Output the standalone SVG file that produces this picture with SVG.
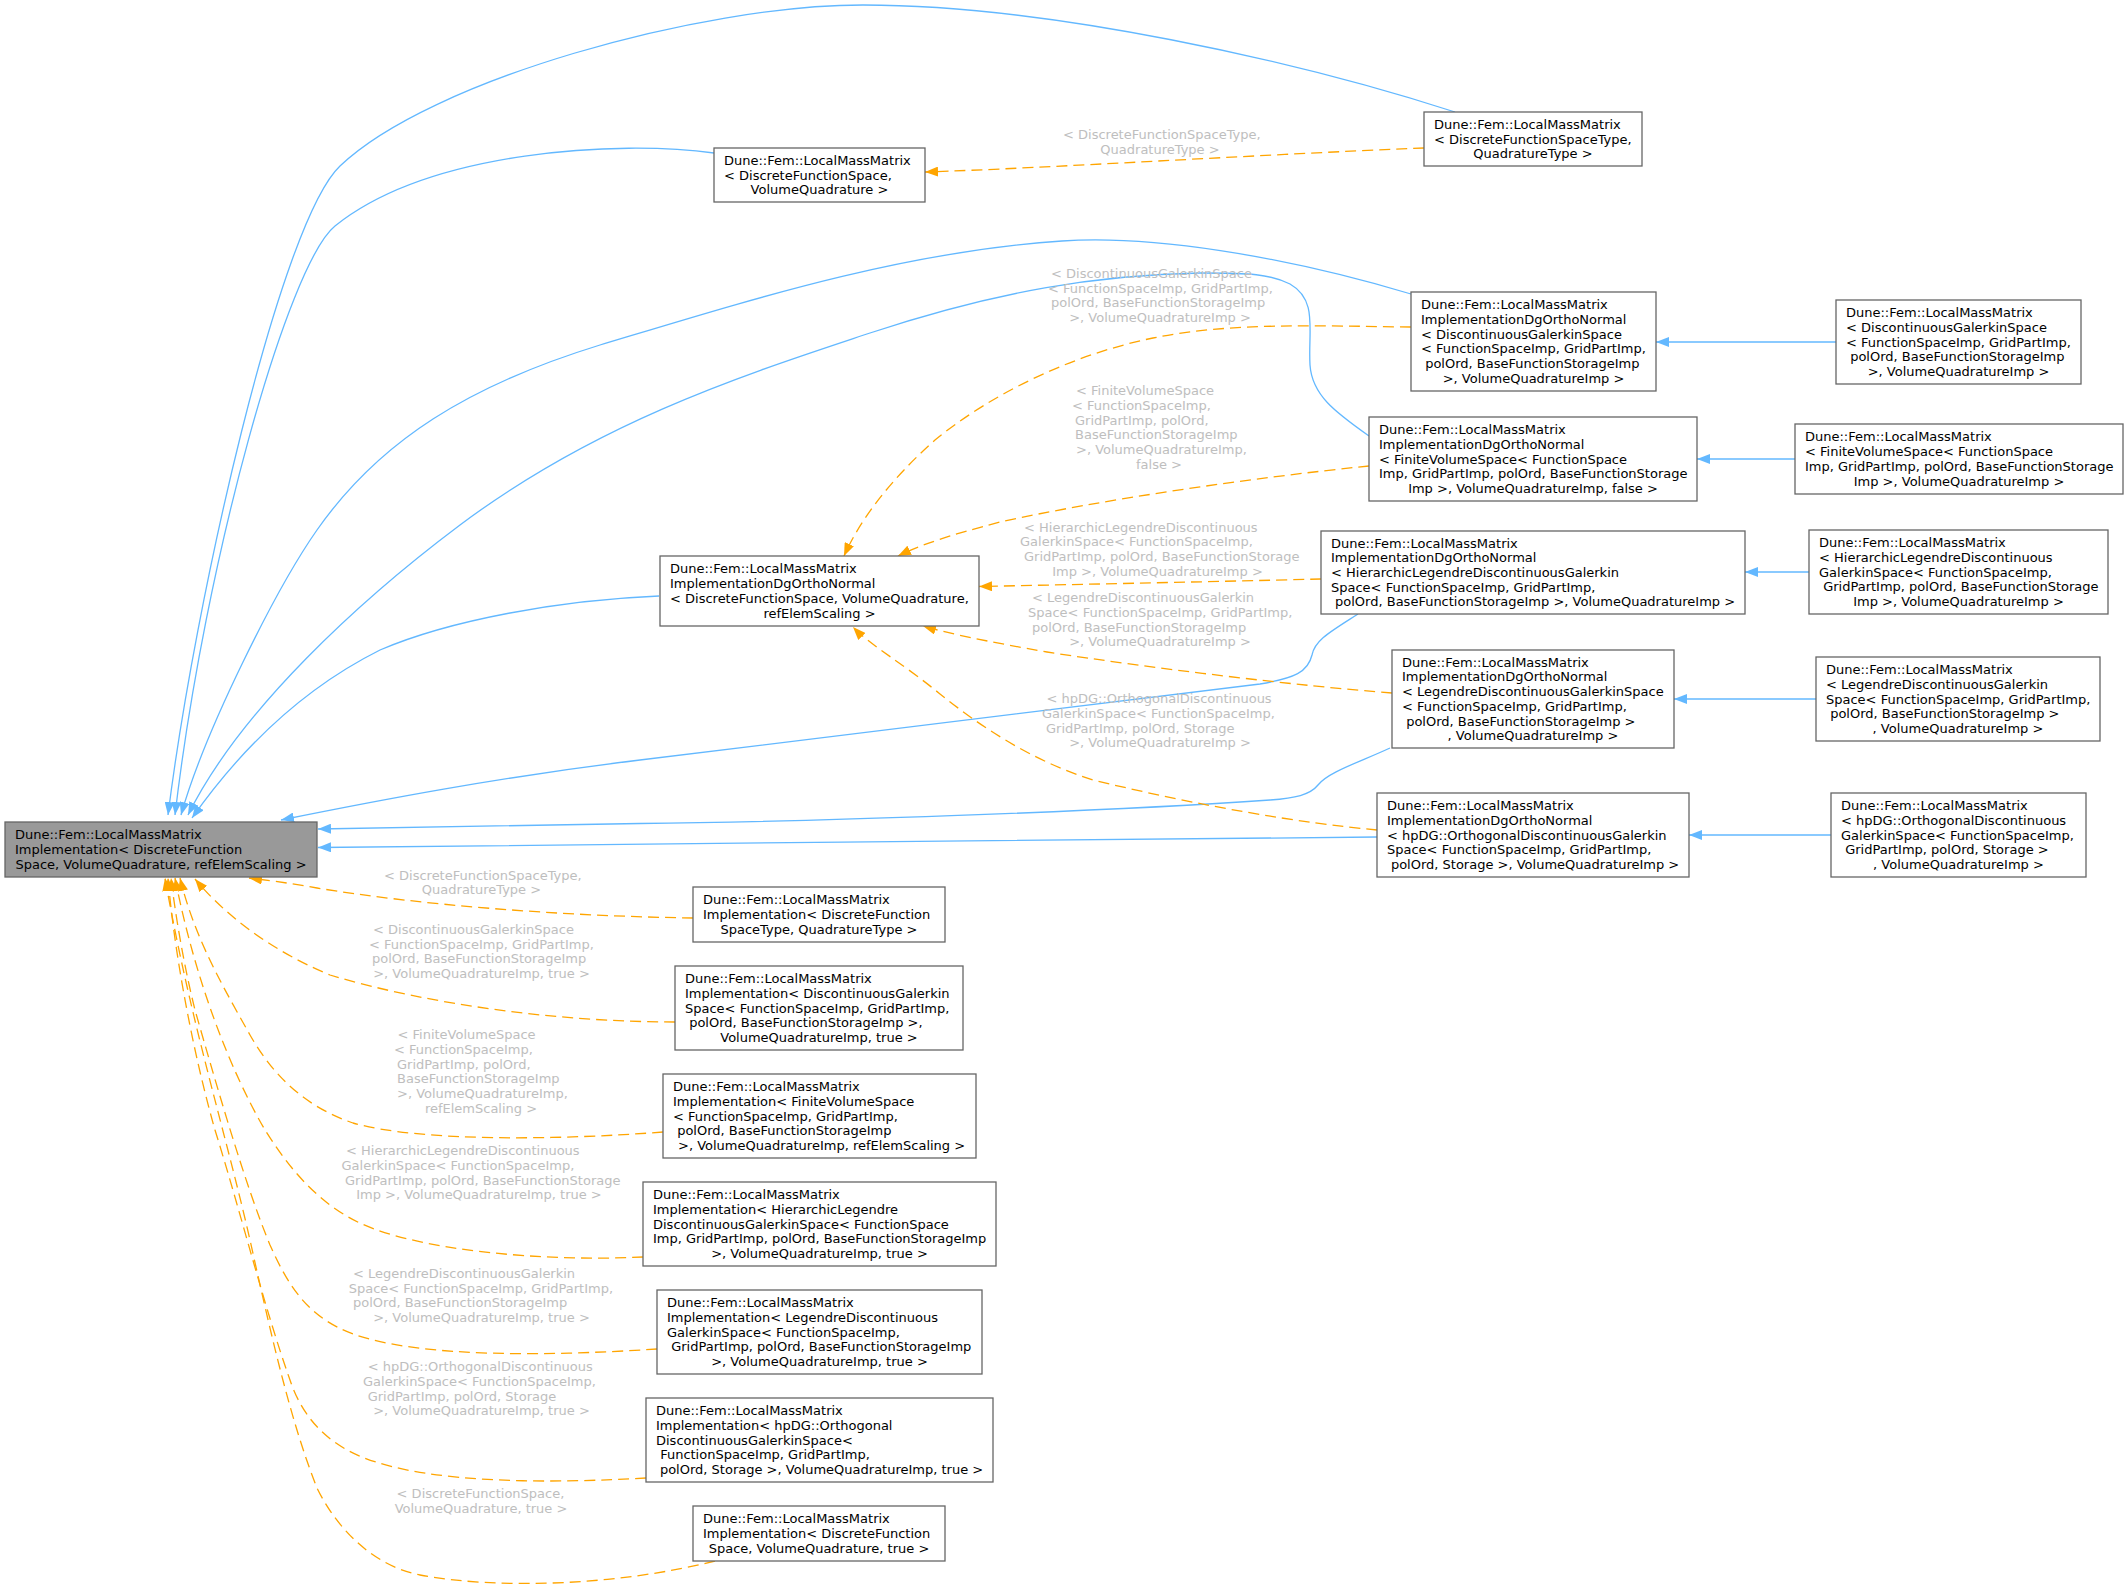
<svg xmlns="http://www.w3.org/2000/svg" width="2128" height="1585" viewBox="0 0 2128 1585">
<style>
.n{fill:#fff;stroke:#666;stroke-width:1.3}
.r{fill:#999;stroke:#666;stroke-width:1.3}
text{font-family:"DejaVu Sans","Liberation Sans",sans-serif;font-size:13px;fill:#000;white-space:pre}
.m{text-anchor:middle}
.lb text{fill:#bebebe}
.b{fill:none;stroke:#63b8ff;stroke-width:1.3;marker-end:url(#ab)}
.o{fill:none;stroke:#ffa500;stroke-width:1.3;stroke-dasharray:11,6;marker-end:url(#ao)}
</style>
<defs>
<marker id="ab" markerUnits="userSpaceOnUse" markerWidth="14" markerHeight="10" refX="13" refY="5" orient="auto"><path d="M0,0L13,5L0,10z" fill="#63b8ff"/></marker>
<marker id="ao" markerUnits="userSpaceOnUse" markerWidth="14" markerHeight="10" refX="13" refY="5" orient="auto"><path d="M0,0L13,5L0,10z" fill="#ffa500"/></marker>
</defs>
<rect width="2128" height="1585" fill="#fff"/>
<g id="connectors">
<path class="b" d="M1455,112 C1300,62 1050,5 863,5 C700,5 430,80 340,166 C280,223 195,600 168,815"/>
<path class="b" d="M714,153 C620,140 430,150 335,226 C288,264 205,560 175,815"/>
<path class="b" d="M1411,294 C1280,255 1150,235 1062,241 C900,252 750,300 600,345 C470,385 380,440 317,530 C277,587 205,730 181,815"/>
<path class="b" d="M1369,436 C1335,412 1312,395 1310,365 C1308,330 1318,300 1290,284 C1270,274 1250,273 1200,273 C1100,275 1000,290 870,333 C750,373 600,420 460,525 C360,600 240,710 188,815"/>
<path class="b" d="M659,596 C560,600 450,620 380,650 C300,690 240,750 192,818"/>
<path class="b" d="M1358,614 C1330,632 1315,640 1312,655 C1308,672 1295,678 1260,684 C1150,698 900,728 640,760 C500,777 380,800 281,820"/>
<path class="b" d="M1390,748 C1360,762 1328,772 1318,785 C1310,795 1295,798 1270,800 C1100,812 800,822 640,823.5 C500,825 400,827 318,829"/>
<path class="b" d="M1377,837 C1100,840 600,844 318,847.5"/>
<path class="b" d="M1836,342 L1656,342"/>
<path class="b" d="M1795,459 L1697,459"/>
<path class="b" d="M1809,572 L1745,572"/>
<path class="b" d="M1816,699 L1674,699"/>
<path class="b" d="M1831,835 L1689,835"/>
<path class="o" d="M1424,148 C1250,155 1050,168 925,172"/>
<path class="o" d="M1411,327 C1320,326 1230,322 1153,338 C1070,355 990,395 935,440 C890,480 860,520 844,556"/>
<path class="o" d="M1369,466 C1250,478 1100,500 1000,522 C950,535 920,545 898,556"/>
<path class="o" d="M1321,579 C1200,582 1050,585 979,586.5"/>
<path class="o" d="M1392,693 C1300,686 1150,668 1047,652 C990,642 950,634 923,626"/>
<path class="o" d="M1377,830 C1300,823 1200,806 1093,780 C1030,760 980,726 940,694 C905,665 870,645 853,627"/>
<path class="o" d="M693,918 C560,916 420,905 317,888 C290,883 265,880 249,878"/>
<path class="o" d="M675,1022 C560,1022 430,1005 330,975 C270,950 225,915 195,879"/>
<path class="o" d="M663,1132 C560,1140 420,1142 353,1123 C300,1105 270,1070 250,1035 C225,990 195,940 180,878"/>
<path class="o" d="M643,1257 C540,1262 420,1250 362,1224 C320,1205 290,1170 265,1130 C230,1070 195,980 175,878"/>
<path class="o" d="M657,1349 C550,1356 420,1358 353,1334 C310,1318 290,1290 270,1245 C245,1185 215,1080 195,1010 C185,970 176,920 171,878"/>
<path class="o" d="M646,1478 C560,1483 430,1485 362,1457 C320,1440 300,1410 290,1380 C265,1310 240,1210 215,1130 C195,1060 175,960 168,878"/>
<path class="o" d="M715,1561 C620,1585 500,1590 420,1575 C370,1565 335,1525 317,1488 C290,1420 270,1330 250,1240 C225,1130 190,1020 165,878"/>
</g>
<g id="edge-labels" class="lb">
<text x="1063" y="139">&lt; DiscreteFunctionSpaceType,</text>
<text x="1160" y="153.5" class="m">QuadratureType &gt;</text>
<text x="1051" y="277.5">&lt; DiscontinuousGalerkinSpace</text>
<text x="1048" y="292.5">&lt; FunctionSpaceImp, GridPartImp,</text>
<text x="1051" y="307">polOrd, BaseFunctionStorageImp</text>
<text x="1160" y="321.5" class="m">&gt;, VolumeQuadratureImp &gt;</text>
<text x="1076" y="395">&lt; FiniteVolumeSpace</text>
<text x="1072" y="410">&lt; FunctionSpaceImp,</text>
<text x="1075" y="424.5">GridPartImp, polOrd,</text>
<text x="1075" y="439">BaseFunctionStorageImp</text>
<text x="1076" y="454">&gt;, VolumeQuadratureImp,</text>
<text x="1159" y="468.5" class="m">false &gt;</text>
<text x="1024" y="531.5">&lt; HierarchicLegendreDiscontinuous</text>
<text x="1020" y="546">GalerkinSpace&lt; FunctionSpaceImp,</text>
<text x="1024" y="560.5">GridPartImp, polOrd, BaseFunctionStorage</text>
<text x="1157.5" y="575.5" class="m">Imp &gt;, VolumeQuadratureImp &gt;</text>
<text x="1032" y="602">&lt; LegendreDiscontinuousGalerkin</text>
<text x="1028" y="616.5">Space&lt; FunctionSpaceImp, GridPartImp,</text>
<text x="1032" y="631.5">polOrd, BaseFunctionStorageImp</text>
<text x="1160" y="645.5" class="m">&gt;, VolumeQuadratureImp &gt;</text>
<text x="1046.5" y="703">&lt; hpDG::OrthogonalDiscontinuous</text>
<text x="1042" y="718">GalerkinSpace&lt; FunctionSpaceImp,</text>
<text x="1046" y="732.5">GridPartImp, polOrd, Storage</text>
<text x="1160" y="747" class="m">&gt;, VolumeQuadratureImp &gt;</text>
<text x="384" y="879.5">&lt; DiscreteFunctionSpaceType,</text>
<text x="481.5" y="894" class="m">QuadratureType &gt;</text>
<text x="373" y="934">&lt; DiscontinuousGalerkinSpace</text>
<text x="369" y="948.5">&lt; FunctionSpaceImp, GridPartImp,</text>
<text x="372" y="963">polOrd, BaseFunctionStorageImp</text>
<text x="481.5" y="977.5" class="m">&gt;, VolumeQuadratureImp, true &gt;</text>
<text x="397.5" y="1039">&lt; FiniteVolumeSpace</text>
<text x="394" y="1054">&lt; FunctionSpaceImp,</text>
<text x="397" y="1068.5">GridPartImp, polOrd,</text>
<text x="397" y="1083">BaseFunctionStorageImp</text>
<text x="397" y="1098">&gt;, VolumeQuadratureImp,</text>
<text x="481" y="1112.5" class="m">refElemScaling &gt;</text>
<text x="346" y="1155">&lt; HierarchicLegendreDiscontinuous</text>
<text x="341.5" y="1170">GalerkinSpace&lt; FunctionSpaceImp,</text>
<text x="345" y="1184.5">GridPartImp, polOrd, BaseFunctionStorage</text>
<text x="479" y="1199" class="m">Imp &gt;, VolumeQuadratureImp, true &gt;</text>
<text x="353" y="1278">&lt; LegendreDiscontinuousGalerkin</text>
<text x="348.7" y="1292.5">Space&lt; FunctionSpaceImp, GridPartImp,</text>
<text x="353" y="1307">polOrd, BaseFunctionStorageImp</text>
<text x="481.5" y="1322" class="m">&gt;, VolumeQuadratureImp, true &gt;</text>
<text x="367.7" y="1371">&lt; hpDG::OrthogonalDiscontinuous</text>
<text x="363" y="1385.5">GalerkinSpace&lt; FunctionSpaceImp,</text>
<text x="367.7" y="1400.5">GridPartImp, polOrd, Storage</text>
<text x="481.5" y="1415" class="m">&gt;, VolumeQuadratureImp, true &gt;</text>
<text x="396.6" y="1498">&lt; DiscreteFunctionSpace,</text>
<text x="481" y="1512.5" class="m">VolumeQuadrature, true &gt;</text>
</g>
<g id="node1"><rect class="r" x="5" y="822" width="312" height="55"/>
<text x="15" y="839.3">Dune::Fem::LocalMassMatrix</text><text x="15" y="854">Implementation&lt; DiscreteFunction</text><text x="161" y="868.7" class="m">Space, VolumeQuadrature, refElemScaling &gt;</text></g>
<g id="node2"><rect class="n" x="1424" y="112" width="218" height="54"/>
<text x="1434" y="128.8">Dune::Fem::LocalMassMatrix</text><text x="1434" y="143.5">&lt; DiscreteFunctionSpaceType,</text><text x="1533" y="158.2" class="m">QuadratureType &gt;</text></g>
<g id="node3"><rect class="n" x="714" y="148" width="211" height="54"/>
<text x="724" y="164.8">Dune::Fem::LocalMassMatrix</text><text x="724" y="179.5">&lt; DiscreteFunctionSpace,</text><text x="819.5" y="194.2" class="m">VolumeQuadrature &gt;</text></g>
<g id="node4"><rect class="n" x="660" y="556" width="319" height="70"/>
<text x="670" y="573.45">Dune::Fem::LocalMassMatrix</text><text x="670" y="588.15">ImplementationDgOrthoNormal</text><text x="670" y="602.85">&lt; DiscreteFunctionSpace, VolumeQuadrature,</text><text x="819.5" y="617.55" class="m">refElemScaling &gt;</text></g>
<g id="node5"><rect class="n" x="1411" y="292" width="245" height="99"/>
<text x="1421" y="309.25">Dune::Fem::LocalMassMatrix</text><text x="1421" y="323.95">ImplementationDgOrthoNormal</text><text x="1421" y="338.65">&lt; DiscontinuousGalerkinSpace</text><text x="1421" y="353.35">&lt; FunctionSpaceImp, GridPartImp,</text><text x="1421" y="368.05"> polOrd, BaseFunctionStorageImp</text><text x="1533.5" y="382.75" class="m">&gt;, VolumeQuadratureImp &gt;</text></g>
<g id="node6"><rect class="n" x="1369" y="417" width="328" height="84"/>
<text x="1379" y="434.1">Dune::Fem::LocalMassMatrix</text><text x="1379" y="448.8">ImplementationDgOrthoNormal</text><text x="1379" y="463.5">&lt; FiniteVolumeSpace&lt; FunctionSpace</text><text x="1379" y="478.2">Imp, GridPartImp, polOrd, BaseFunctionStorage</text><text x="1533" y="492.9" class="m">Imp &gt;, VolumeQuadratureImp, false &gt;</text></g>
<g id="node7"><rect class="n" x="1321" y="531" width="424" height="83"/>
<text x="1331" y="547.6">Dune::Fem::LocalMassMatrix</text><text x="1331" y="562.3">ImplementationDgOrthoNormal</text><text x="1331" y="577">&lt; HierarchicLegendreDiscontinuousGalerkin</text><text x="1331" y="591.7">Space&lt; FunctionSpaceImp, GridPartImp,</text><text x="1533" y="606.4" class="m"> polOrd, BaseFunctionStorageImp &gt;, VolumeQuadratureImp &gt;</text></g>
<g id="node8"><rect class="n" x="1392" y="650" width="282" height="98"/>
<text x="1402" y="666.75">Dune::Fem::LocalMassMatrix</text><text x="1402" y="681.45">ImplementationDgOrthoNormal</text><text x="1402" y="696.15">&lt; LegendreDiscontinuousGalerkinSpace</text><text x="1402" y="710.85">&lt; FunctionSpaceImp, GridPartImp,</text><text x="1402" y="725.55"> polOrd, BaseFunctionStorageImp &gt;</text><text x="1533" y="740.25" class="m">, VolumeQuadratureImp &gt;</text></g>
<g id="node9"><rect class="n" x="1377" y="793" width="312" height="84"/>
<text x="1387" y="810.1">Dune::Fem::LocalMassMatrix</text><text x="1387" y="824.8">ImplementationDgOrthoNormal</text><text x="1387" y="839.5">&lt; hpDG::OrthogonalDiscontinuousGalerkin</text><text x="1387" y="854.2">Space&lt; FunctionSpaceImp, GridPartImp,</text><text x="1533" y="868.9" class="m"> polOrd, Storage &gt;, VolumeQuadratureImp &gt;</text></g>
<g id="node10"><rect class="n" x="1836" y="300" width="245" height="84"/>
<text x="1846" y="317.1">Dune::Fem::LocalMassMatrix</text><text x="1846" y="331.8">&lt; DiscontinuousGalerkinSpace</text><text x="1846" y="346.5">&lt; FunctionSpaceImp, GridPartImp,</text><text x="1846" y="361.2"> polOrd, BaseFunctionStorageImp</text><text x="1958.5" y="375.9" class="m">&gt;, VolumeQuadratureImp &gt;</text></g>
<g id="node11"><rect class="n" x="1795" y="424" width="328" height="70"/>
<text x="1805" y="441.45">Dune::Fem::LocalMassMatrix</text><text x="1805" y="456.15">&lt; FiniteVolumeSpace&lt; FunctionSpace</text><text x="1805" y="470.85">Imp, GridPartImp, polOrd, BaseFunctionStorage</text><text x="1959" y="485.55" class="m">Imp &gt;, VolumeQuadratureImp &gt;</text></g>
<g id="node12"><rect class="n" x="1809" y="530" width="299" height="84"/>
<text x="1819" y="547.1">Dune::Fem::LocalMassMatrix</text><text x="1819" y="561.8">&lt; HierarchicLegendreDiscontinuous</text><text x="1819" y="576.5">GalerkinSpace&lt; FunctionSpaceImp,</text><text x="1819" y="591.2"> GridPartImp, polOrd, BaseFunctionStorage</text><text x="1958.5" y="605.9" class="m">Imp &gt;, VolumeQuadratureImp &gt;</text></g>
<g id="node13"><rect class="n" x="1816" y="657" width="284" height="84"/>
<text x="1826" y="674.1">Dune::Fem::LocalMassMatrix</text><text x="1826" y="688.8">&lt; LegendreDiscontinuousGalerkin</text><text x="1826" y="703.5">Space&lt; FunctionSpaceImp, GridPartImp,</text><text x="1826" y="718.2"> polOrd, BaseFunctionStorageImp &gt;</text><text x="1958" y="732.9" class="m">, VolumeQuadratureImp &gt;</text></g>
<g id="node14"><rect class="n" x="1831" y="793" width="255" height="84"/>
<text x="1841" y="810.1">Dune::Fem::LocalMassMatrix</text><text x="1841" y="824.8">&lt; hpDG::OrthogonalDiscontinuous</text><text x="1841" y="839.5">GalerkinSpace&lt; FunctionSpaceImp,</text><text x="1841" y="854.2"> GridPartImp, polOrd, Storage &gt;</text><text x="1958.5" y="868.9" class="m">, VolumeQuadratureImp &gt;</text></g>
<g id="node15"><rect class="n" x="693" y="887" width="252" height="55"/>
<text x="703" y="904.3">Dune::Fem::LocalMassMatrix</text><text x="703" y="919">Implementation&lt; DiscreteFunction</text><text x="819" y="933.7" class="m">SpaceType, QuadratureType &gt;</text></g>
<g id="node16"><rect class="n" x="675" y="966" width="288" height="84"/>
<text x="685" y="983.1">Dune::Fem::LocalMassMatrix</text><text x="685" y="997.8">Implementation&lt; DiscontinuousGalerkin</text><text x="685" y="1012.5">Space&lt; FunctionSpaceImp, GridPartImp,</text><text x="685" y="1027.2"> polOrd, BaseFunctionStorageImp &gt;,</text><text x="819" y="1041.9" class="m">VolumeQuadratureImp, true &gt;</text></g>
<g id="node17"><rect class="n" x="663" y="1074" width="313" height="84"/>
<text x="673" y="1091.1">Dune::Fem::LocalMassMatrix</text><text x="673" y="1105.8">Implementation&lt; FiniteVolumeSpace</text><text x="673" y="1120.5">&lt; FunctionSpaceImp, GridPartImp,</text><text x="673" y="1135.2"> polOrd, BaseFunctionStorageImp</text><text x="819.5" y="1149.9" class="m"> &gt;, VolumeQuadratureImp, refElemScaling &gt;</text></g>
<g id="node18"><rect class="n" x="643" y="1182" width="353" height="84"/>
<text x="653" y="1199.1">Dune::Fem::LocalMassMatrix</text><text x="653" y="1213.8">Implementation&lt; HierarchicLegendre</text><text x="653" y="1228.5">DiscontinuousGalerkinSpace&lt; FunctionSpace</text><text x="653" y="1243.2">Imp, GridPartImp, polOrd, BaseFunctionStorageImp</text><text x="819.5" y="1257.9" class="m">&gt;, VolumeQuadratureImp, true &gt;</text></g>
<g id="node19"><rect class="n" x="657" y="1290" width="325" height="84"/>
<text x="667" y="1307.1">Dune::Fem::LocalMassMatrix</text><text x="667" y="1321.8">Implementation&lt; LegendreDiscontinuous</text><text x="667" y="1336.5">GalerkinSpace&lt; FunctionSpaceImp,</text><text x="667" y="1351.2"> GridPartImp, polOrd, BaseFunctionStorageImp</text><text x="819.5" y="1365.9" class="m">&gt;, VolumeQuadratureImp, true &gt;</text></g>
<g id="node20"><rect class="n" x="646" y="1398" width="347" height="84"/>
<text x="656" y="1415.1">Dune::Fem::LocalMassMatrix</text><text x="656" y="1429.8">Implementation&lt; hpDG::Orthogonal</text><text x="656" y="1444.5">DiscontinuousGalerkinSpace&lt;</text><text x="656" y="1459.2"> FunctionSpaceImp, GridPartImp,</text><text x="819.5" y="1473.9" class="m"> polOrd, Storage &gt;, VolumeQuadratureImp, true &gt;</text></g>
<g id="node21"><rect class="n" x="693" y="1506" width="252" height="55"/>
<text x="703" y="1523.3">Dune::Fem::LocalMassMatrix</text><text x="703" y="1538">Implementation&lt; DiscreteFunction</text><text x="819" y="1552.7" class="m">Space, VolumeQuadrature, true &gt;</text></g>
</svg>
